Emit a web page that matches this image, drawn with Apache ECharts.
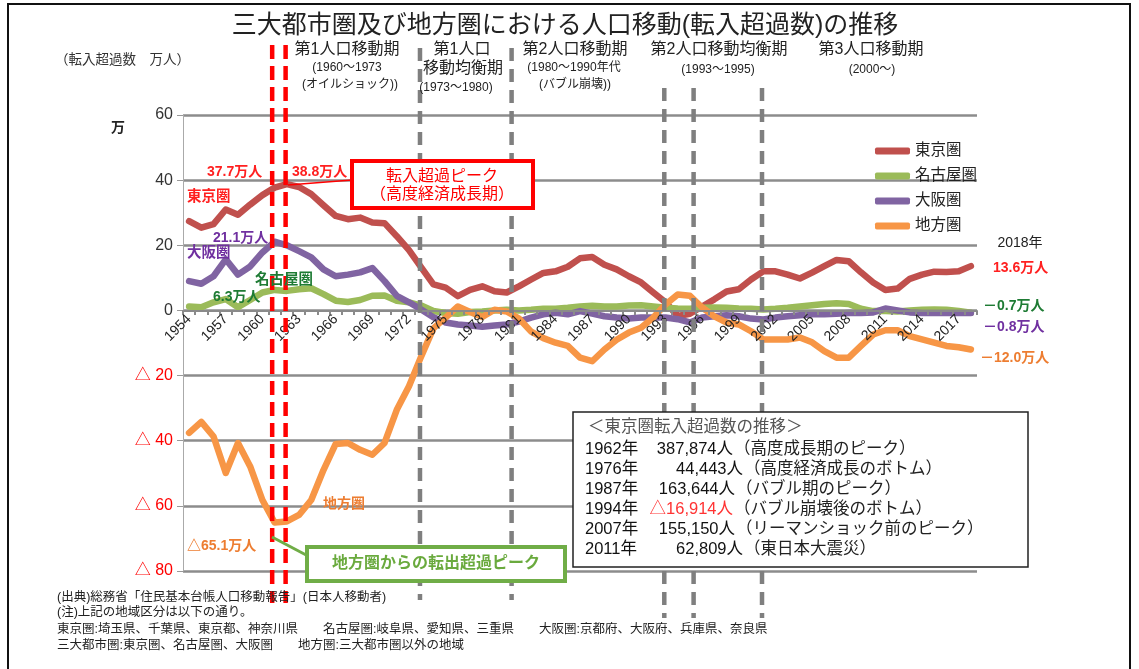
<!DOCTYPE html>
<html>
<head>
<meta charset="utf-8">
<title>三大都市圏及び地方圏における人口移動</title>
<script src="https://cdn.jsdelivr.net/npm/echarts@6/dist/echarts.min.js"></script>
<style>
  html, body { margin: 0; padding: 0; background: #fff; }
  #main { width: 1139px; height: 669px; }
</style>
</head>
<body>
<div id="main"></div>
<script>
// 年（1954〜2018）
var years = [];
for (var y = 1954; y <= 2018; y++) years.push(String(y));

// 転入超過数（万人）
var tokyo = [
  27.4, 25.4, 26.5, 31.0, 29.4, 32.5, 35.4, 37.7, 38.8, 37.9,
  35.7, 32.3, 29.0, 28.0, 28.5, 27.0, 26.8, 22.8, 18.5, 13.2,
  8.0, 7.0, 4.4, 6.3, 7.4, 5.9, 5.5, 7.4, 9.5, 11.5,
  12.0, 13.4, 16.0, 16.4, 14.0, 12.6, 10.5, 8.6, 5.5, 2.5,
  -1.7, -1.0, 1.2, 3.4, 5.8, 6.5, 9.5, 12.0, 12.0, 11.0,
  9.8, 11.6, 13.6, 15.5, 15.1, 11.7, 8.6, 6.3, 6.7, 9.7,
  11.0, 11.9, 11.8, 12.0, 13.6
];
var nagoya = [
  1.2, 1.0, 2.5, 3.5, 1.0, 3.2, 5.5, 6.3, 6.0, 6.5,
  6.8, 5.0, 3.0, 2.6, 3.2, 4.5, 4.6, 3.0, 2.5, 1.5,
  -0.2, -0.8, -1.0, -0.5, -0.3, 0.0, 0.2, 0.0, 0.2, 0.5,
  0.5, 0.8, 1.2, 1.4, 1.2, 1.2, 1.5, 1.6, 1.2, 0.8,
  0.6, 0.5, 0.8, 0.9, 0.8, 0.6, 0.5, 0.3, 0.5, 0.8,
  1.2, 1.6, 2.0, 2.2, 2.0, 0.5, -0.2, -0.2, -0.3, 0.0,
  0.2, 0.3, 0.2, -0.2, -0.7
];
var osaka = [
  9.0, 8.2, 10.5, 15.7, 11.0, 13.5, 17.8, 21.1, 20.0, 18.2,
  16.3, 12.6, 10.5, 11.0, 11.7, 13.0, 9.0, 4.5, 2.5, 0.3,
  -2.1, -3.7, -4.3, -4.6, -5.0, -4.6, -4.3, -3.4, -2.2, -1.2,
  -0.7, -1.2, -0.2, -1.0, -1.8, -2.2, -2.5, -2.2, -2.2, -2.2,
  -2.7, -3.7, -2.2, -1.8, -1.5, -1.8, -2.5, -2.8, -2.2, -1.8,
  -1.5, -1.2, -1.2, -1.0, -0.8, -0.8, -0.6, 0.6, 0.0, -0.6,
  -0.8, -0.8, -0.8, -0.8, -0.8
];
var chiho = [
  -37.6, -34.2, -38.7, -49.9, -40.7, -47.9, -58.2, -65.1, -64.8, -62.8,
  -58.2, -49.0, -41.0, -40.7, -42.8, -44.3, -40.7, -30.5, -23.3, -14.1,
  -5.5, -2.2, 1.2, -0.5, -2.0, 0.2, -0.3, -2.5, -6.5, -8.5,
  -9.9, -10.9, -14.5, -15.6, -12.0, -9.0, -6.8, -5.3, -2.2, 1.8,
  4.9, 4.5, 0.9, -1.8, -3.7, -4.3, -6.4, -8.9, -8.9, -8.9,
  -8.3, -9.8, -12.5, -14.5, -14.5, -10.9, -7.4, -6.1, -6.1, -7.9,
  -8.9, -9.9, -10.9, -11.3, -12.0
];

// 時期区分の縦線（年の位置）
var redLineYears = [1960.8, 1961.9];
var grayLineYears = [1972.9, 1980.4, 1992.9, 1995.3, 2000.9];

// 東京圏転入超過数の推移（表）
var tableRows = [
  ['1962年', '387,874人', '（高度成長期のピーク）'],
  ['1976年', '44,443人', '（高度経済成長のボトム）'],
  ['1987年', '163,644人', '（バブル期のピーク）'],
  ['1994年', '△16,914人', '（バブル崩壊後のボトム）'],
  ['2007年', '155,150人', '（リーマンショック前のピーク）'],
  ['2011年', '62,809人', '（東日本大震災）']
];

var notes = [
  '(出典)総務省「住民基本台帳人口移動報告」(日本人移動者)',
  '(注)上記の地域区分は以下の通り。',
  '東京圏:埼玉県、千葉県、東京都、神奈川県　　名古屋圏:岐阜県、愛知県、三重県　　大阪圏:京都府、大阪府、兵庫県、奈良県',
  '三大都市圏:東京圏、名古屋圏、大阪圏　　地方圏:三大都市圏以外の地域'
];

var FONT = '"Liberation Sans","Noto Sans CJK JP",sans-serif';
var C_TOKYO = '#C0504D', C_NAGOYA = '#9BBB59', C_OSAKA = '#8064A2', C_CHIHO = '#F79646';

var chart = echarts.init(document.getElementById('main'));

// 文字を置く
function txt(x, y, s, size, color, opt) {
  opt = opt || {};
  var align = opt.align || 'left';
  return {
    type: 'text', x: x, y: y, z: opt.z || 50, silent: true,
    style: {
      text: s, fill: color, fontSize: size, fontFamily: FONT,
      fontWeight: opt.bold ? 'bold' : 'normal',
      align: align, verticalAlign: 'middle',
      textAlign: align, textVerticalAlign: 'middle'
    }
  };
}

var g = [];
// 外枠
g.push({ type: 'rect', shape: { x: 8, y: 4, width: 1122, height: 700 }, style: { fill: 'none', stroke: '#111', lineWidth: 2 }, z: 1, silent: true });
// タイトル
g.push(txt(565, 26, '三大都市圏及び地方圏における人口移動(転入超過数)の推移', 25, '#222', { align: 'center' }));
g.push(txt(55, 60, '（転入超過数　万人）', 13.5, '#333'));
g.push(txt(118, 128, '万', 14, '#222', { align: 'center', bold: true }));

// 時期区分の見出し
[
  [347, 50, '第1人口移動期', 16], [347, 68, '(1960～1973', 12], [350, 85, '(オイルショック))', 12],
  [462, 50, '第1人口', 16], [463, 69, '移動均衡期', 16], [456, 88, '(1973～1980)', 12],
  [575, 50, '第2人口移動期', 16], [574, 68, '(1980～1990年代', 12], [575, 85, '(バブル崩壊))', 12],
  [719, 50, '第2人口移動均衡期', 16], [718, 70, '(1993～1995)', 12],
  [871, 50, '第3人口移動期', 16], [872, 70, '(2000～)', 12]
].forEach(function (p) {
  g.push(txt(p[0], p[1], p[2], p[3], '#222', { align: 'center' }));
});

// 系列ラベル
g.push(txt(207, 172, '37.7万人', 14, '#FF2020', { bold: true }));
g.push(txt(292, 172, '38.8万人', 14, '#FF2020', { bold: true }));
g.push(txt(187, 197, '東京圏', 14.5, '#FF2020', { bold: true }));
g.push(txt(213, 238, '21.1万人', 14, '#7030A0', { bold: true }));
g.push(txt(187, 253, '大阪圏', 14.5, '#7030A0', { bold: true }));
g.push(txt(255, 280, '名古屋圏', 14.5, '#1E7B34', { bold: true }));
g.push(txt(213, 297, '6.3万人', 14, '#1E7B34', { bold: true }));
g.push(txt(323, 504, '地方圏', 14, '#ED7D31', { bold: true }));
g.push(txt(187, 546, '△65.1万人', 14, '#ED7D31', { bold: true }));

// 2018年の値
g.push(txt(1020, 243, '2018年', 14, '#222', { align: 'center' }));
g.push(txt(993, 268, '13.6万人', 14, '#FF2020', { bold: true }));
g.push(txt(983, 306, '－0.7万人', 14, '#1E7B34', { bold: true }));
g.push(txt(983, 327, '－0.8万人', 14, '#7030A0', { bold: true }));
g.push(txt(980, 358, '－12.0万人', 14, '#ED7D31', { bold: true }));

// 転入超過ピークの枠
g.push({ type: 'line', shape: { x1: 288, y1: 185, x2: 352, y2: 180 }, style: { stroke: '#FF0000', lineWidth: 1.5 }, z: 40, silent: true });
g.push({ type: 'rect', shape: { x: 352, y: 161, width: 181, height: 47 }, style: { fill: '#fff', stroke: '#FF0000', lineWidth: 4 }, z: 45, silent: true });
g.push(txt(442, 177, '転入超過ピーク', 16, '#FF0000', { align: 'center' }));
g.push(txt(442, 195, '（高度経済成長期）', 16, '#FF0000', { align: 'center' }));

// 転出超過ピークの枠
g.push({ type: 'line', shape: { x1: 272, y1: 537, x2: 308, y2: 556 }, style: { stroke: '#70AD47', lineWidth: 3 }, z: 40, silent: true });
g.push({ type: 'rect', shape: { x: 307, y: 547, width: 258, height: 34 }, style: { fill: '#fff', stroke: '#70AD47', lineWidth: 4 }, z: 45, silent: true });
g.push(txt(436, 564, '地方圏からの転出超過ピーク', 16, '#6AAA3E', { align: 'center', bold: true }));

// 表
g.push({ type: 'rect', shape: { x: 573, y: 412, width: 455, height: 155 }, style: { fill: '#fff', stroke: '#222', lineWidth: 1.5 }, z: 45, silent: true });
g.push(txt(588, 427, '＜東京圏転入超過数の推移＞', 16.5, '#555'));
var amtEnd = [733, 743, 735, 733, 735, 743];
tableRows.forEach(function (r, i) {
  var yy = 449 + i * 20;
  g.push(txt(585, yy, r[0], 16.5, '#111'));
  g.push(txt(amtEnd[i], yy, r[1], 16.5, i === 3 ? '#FF3333' : '#111', { align: 'right' }));
  g.push(txt(amtEnd[i] + 1, yy, r[2], 16.5, '#222'));
});

// 注記
notes.forEach(function (s, i) {
  g.push(txt(57, [598, 613, 630, 646][i], s, 12.5, '#222'));
});

// 縦線の系列
function divider(yr, color, top, bottom, dash) {
  return {
    type: 'line', xAxisIndex: 1, yAxisIndex: 1, silent: true, z: 10,
    showSymbol: false, symbol: 'none', animation: false,
    data: [[yr, top], [yr, bottom]],
    lineStyle: { color: color, width: 4.5, type: dash }
  };
}

function mainLine(name, data, color) {
  return {
    name: name, type: 'line', data: data, showSymbol: false, symbol: 'none',
    xAxisIndex: 0, yAxisIndex: 0, z: 3,
    lineStyle: { color: color, width: 6.5, cap: 'round', join: 'round' },
    itemStyle: { color: color }
  };
}

var series = [
  mainLine('東京圏', tokyo, C_TOKYO),
  mainLine('名古屋圏', nagoya, C_NAGOYA),
  mainLine('大阪圏', osaka, C_OSAKA),
  mainLine('地方圏', chiho, C_CHIHO)
];
redLineYears.forEach(function (yr) { series.push(divider(yr, '#FF0000', 45, 603, [14, 7])); });
grayLineYears.forEach(function (yr, i) {
  series.push(divider(yr, '#7F7F7F', i < 2 ? 48 : 88, i < 2 ? 600 : 618, [13, 8]));
});

var option = {
  animation: false,
  backgroundColor: '#fff',
  textStyle: { fontFamily: FONT },
  grid: [
    { left: 183, right: 162, top: 115, bottom: 98 },
    { left: 183, right: 162, top: 0, bottom: 0 },
    // 0の線に年ラベルを置くための枠（上端〜0の位置）
    { left: 183, right: 162, top: 115, bottom: 358 }
  ],
  legend: {
    data: ['東京圏', '名古屋圏', '大阪圏', '地方圏'],
    orient: 'vertical', left: 870, top: 138,
    icon: 'roundRect', itemWidth: 35, itemHeight: 7, itemGap: 9,
    textStyle: { fontSize: 15.5, color: '#222', lineHeight: 16, fontFamily: FONT }
  },
  xAxis: [{
    type: 'category', data: years, boundaryGap: true, gridIndex: 0,
    axisLine: { show: false }, axisTick: { show: false }, axisLabel: { show: false },
    splitLine: { show: false }
  }, {
    type: 'value', gridIndex: 1, min: 1953.5, max: 2018.5, show: false
  }, {
    type: 'category', data: years, boundaryGap: true, gridIndex: 2, position: 'bottom', z: 8,
    axisLine: { show: true, onZero: false, lineStyle: { color: '#8A8A8A', width: 2 } },
    axisTick: { show: true, interval: 0, length: 4, lineStyle: { color: '#8A8A8A', width: 2 } },
    axisLabel: { interval: 2, rotate: 45, margin: 6, fontSize: 14, color: '#222', fontFamily: FONT },
    splitLine: { show: false }
  }],
  yAxis: [{
    type: 'value', min: -80, max: 60, interval: 20, gridIndex: 0,
    axisLine: { show: true, lineStyle: { color: '#AAAAAA', width: 1 } },
    axisTick: { show: true, length: 6, lineStyle: { color: '#999' } },
    axisLabel: {
      fontSize: 16, margin: 10, fontFamily: FONT,
      formatter: function (v) { return v < 0 ? '△ ' + (-v) : String(v); },
      color: function (v) { return parseFloat(v) < 0 ? '#FF0000' : '#333'; }
    },
    splitLine: { show: true, lineStyle: { color: '#8C8C8C', width: 2.5 } }
  }, {
    type: 'value', gridIndex: 1, min: 0, max: 669, inverse: true, show: false
  }, {
    type: 'value', gridIndex: 2, min: 0, max: 1, show: false
  }],
  series: series,
  graphic: { elements: g }
};

chart.setOption(option);
</script>
</body>
</html>
